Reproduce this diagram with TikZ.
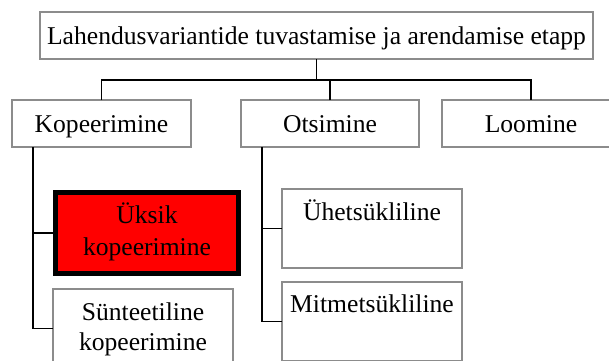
\documentclass[tikz,border=0pt]{standalone}
\usepackage{fontspec}
\setmainfont{Liberation Serif}
\definecolor{boxgray}{RGB}{140,140,140}
\definecolor{hilite}{RGB}{255,0,0}
\begin{document}
\begin{tikzpicture}[x=1pt,y=-1pt,
  font=\fontsize{25.6pt}{31pt}\selectfont,
  % single-line boxes: caps centred vertically
  box/.style={draw=boxgray, line width=1.5pt, fill=white, inner sep=0pt,
    outer sep=0pt, text height=17pt, text depth=0pt, minimum height=47pt},
  % boxes whose text hangs from the top edge
  tallbox/.style={draw=boxgray, line width=1.5pt, fill=white, inner sep=0pt,
    outer sep=0pt},
  markbox/.style={draw=black, line width=5pt, fill=hilite, inner sep=0pt,
    outer sep=0pt},
  conn/.style={draw=black, line width=1.7pt}]

\useasboundingbox (0,0) rectangle (609,360);
\clip (0,0) rectangle (609,360);
\fill[white] (0,0) rectangle (609,360);

% top level
\node[box, minimum width=553pt] (top) at (316.5,35.5)
  {Lahendusvariantide tuvastamise ja arendamise etapp};

% second level
\node[box, minimum width=179pt] (kop) at (101.5,123.5) {Kopeerimine};
\node[box, minimum width=178pt] (ots) at (330,123.5) {Otsimine};
\node[box, minimum width=178pt] (loo) at (531,123.5) {Loomine};

% third level under Kopeerimine
\node[markbox, anchor=north] (uks) at (147,192.5)
  {\parbox[t][80.5pt][t]{183pt}{\centering\fontsize{25.6pt}{32pt}\selectfont
   \rule{0pt}{30.8pt}Üksik\\kopeerimine}};
\node[tallbox, anchor=north] (syn) at (143,289)
  {\parbox[t][79pt][t]{180pt}{\centering\fontsize{25.6pt}{30pt}\selectfont
   \rule{0pt}{31pt}Sünteetiline\\kopeerimine}};

% third level under Otsimine
\node[tallbox, anchor=north] (yhe) at (372,189)
  {\parbox[t][79pt][t]{180pt}{\centering\rule{0pt}{31pt}Ühetsükliline}};
\node[tallbox, anchor=north] (mit) at (372,282)
  {\parbox[t][79pt][t]{180pt}{\centering\rule{0pt}{30.7pt}Mitmetsükliline}};

% horizontal bus and the two side spines
\coordinate (bus) at (0,80);
\coordinate (kspine) at (33,0);
\coordinate (ospine) at (262,0);

\draw[conn] (top.south) -- (top.south |- bus);
\draw[conn] (kop.north) -- (kop.north |- bus) -- (loo.north |- bus) -- (loo.north);
\draw[conn] (ots.north) -- (ots.north |- bus);

\draw[conn] (kop.south -| kspine) |- (syn.west);
\draw[conn] (uks.west -| kspine) -- (uks.west);

\draw[conn] (ots.south -| ospine) |- (mit.west);
\draw[conn] (yhe.west -| ospine) -- (yhe.west);
\end{tikzpicture}
\end{document}
